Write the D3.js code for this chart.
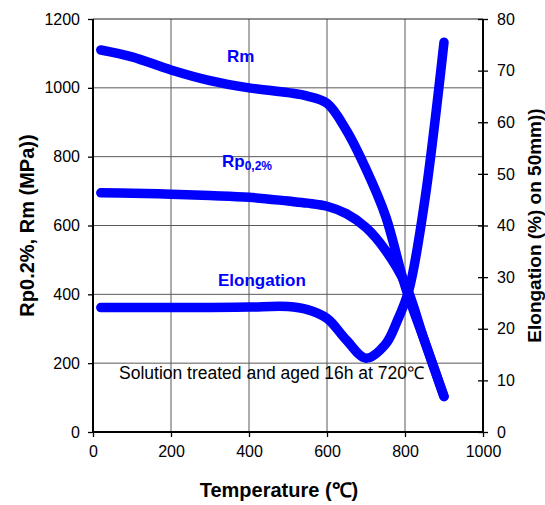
<!DOCTYPE html>
<html>
<head>
<meta charset="utf-8">
<script src="https://cdn.jsdelivr.net/npm/d3@7"></script>
<style>
  body { margin: 0; background: #fff; }
  svg { display: block; font-family: "Liberation Sans", Arial, sans-serif; }
</style>
</head>
<body>
<svg id="chart" width="545" height="505"></svg>
<script>
// strength curves, MPa (left axis)
const strengthTemps = [20, 100, 200, 300, 400, 500, 550, 600, 650, 700, 750, 800, 850, 900];
const rm = [1110, 1090, 1052, 1021, 1000, 986, 976, 955, 876, 764, 628, 425, 265, 103];
const rp = [695, 694, 691, 687, 682, 671, 665, 656, 634, 594, 528, 432, 265, 103];

// elongation, % (right axis)
const elongTemps = [20, 100, 200, 300, 400, 500, 550, 600, 650, 700, 750, 780, 810, 850, 900];
const elong = [24.1, 24.1, 24.1, 24.1, 24.2, 24.3, 23.7, 22.0, 17.8, 14.3, 17.0, 21.5, 27.5, 44.5, 75.5];

const xTicks = [0, 200, 400, 600, 800, 1000];
const leftTicks = [0, 200, 400, 600, 800, 1000, 1200];
const rightTicks = [0, 10, 20, 30, 40, 50, 60, 70, 80];

const margin = { top: 19, right: 62, bottom: 73, left: 93 };
const W = 545, H = 505;
const w = W - margin.left - margin.right;
const h = H - margin.top - margin.bottom;

const svg = d3.select("#chart");
const g = svg.append("g").attr("transform", `translate(${margin.left},${margin.top})`);

const x = d3.scaleLinear().domain([0, 1000]).range([0, w]);
const yL = d3.scaleLinear().domain([0, 1200]).range([h, 0]);
const yR = d3.scaleLinear().domain([0, 80]).range([h, 0]);

// grid
g.append("g").selectAll("line")
  .data(xTicks.filter(d => d > 0 && d < 1000))
  .enter().append("line")
  .attr("x1", d => x(d)).attr("x2", d => x(d))
  .attr("y1", 0).attr("y2", h)
  .attr("stroke", "#5a5a5a").attr("stroke-width", 1);
g.append("g").selectAll("line")
  .data(leftTicks.filter(d => d > 0 && d < 1200))
  .enter().append("line")
  .attr("x1", 0).attr("x2", w)
  .attr("y1", d => yL(d)).attr("y2", d => yL(d))
  .attr("stroke", "#5a5a5a").attr("stroke-width", 1);
g.append("line")
  .attr("x1", 0).attr("x2", w).attr("y1", 0).attr("y2", 0)
  .attr("stroke", "#222").attr("stroke-width", 1.2);

// axes
const fmt = d3.format("d");
const axB = g.append("g").attr("transform", `translate(0,${h})`)
  .call(d3.axisBottom(x).tickValues(xTicks).tickFormat(fmt).tickSize(5).tickPadding(9));
const axL = g.append("g")
  .call(d3.axisLeft(yL).tickValues(leftTicks).tickFormat(fmt).tickSize(5).tickPadding(8));
const axR = g.append("g").attr("transform", `translate(${w},0)`)
  .call(d3.axisRight(yR).tickValues(rightTicks).tickFormat(fmt).tickSize(5).tickPadding(9));
axR.selectAll(".tick line").attr("x1", -5);

[axB, axL, axR].forEach(a => {
  a.select(".domain").attr("stroke", "#000").attr("stroke-width", 2);
  a.selectAll(".tick line").attr("stroke", "#000").attr("stroke-width", 1.3);
  a.selectAll(".tick text")
    .attr("font-family", "'Liberation Sans', Arial, sans-serif")
    .attr("font-size", "16px").attr("fill", "#000");
});
axB.select(".domain").attr("d", `M0,0H${w}`);
axL.select(".domain").attr("d", `M0,0V${h}`);
axR.select(".domain").attr("d", `M0,0V${h}`);

// curves
const curve = d3.curveCatmullRom.alpha(0.5);
const lineL = d3.line().x((d, i) => x(strengthTemps[i])).y(d => yL(d)).curve(curve);
const lineR = d3.line().x((d, i) => x(elongTemps[i])).y(d => yR(d)).curve(curve);

[rp, rm].forEach(s => {
  g.append("path").datum(s).attr("d", lineL)
    .attr("fill", "none").attr("stroke", "#0000ff")
    .attr("stroke-width", 9.5).attr("stroke-linecap", "round").attr("stroke-linejoin", "round");
});
g.append("path").datum(elong).attr("d", lineR)
  .attr("fill", "none").attr("stroke", "#0000ff")
  .attr("stroke-width", 9.5).attr("stroke-linecap", "round").attr("stroke-linejoin", "round");

// labels
const lab = svg.append("g").attr("fill", "#0000ff").attr("font-weight", "bold").attr("font-size", "17px");
lab.append("text").attr("x", 227).attr("y", 62).text("Rm");
const rpT = lab.append("text").attr("x", 222).attr("y", 167);
rpT.append("tspan").text("Rp");
rpT.append("tspan").attr("font-size", "12px").attr("dy", 3).text("0,2%");
lab.append("text").attr("x", 218).attr("y", 286).text("Elongation");

svg.append("text").attr("x", 119).attr("y", 379)
  .attr("font-size", "17.5px").attr("fill", "#000")
  .text("Solution treated and aged 16h at 720\u2103");

// axis titles
svg.append("text")
  .attr("x", margin.left + w / 2 - 9).attr("y", 497)
  .attr("text-anchor", "middle").attr("font-weight", "bold").attr("font-size", "20px")
  .text("Temperature (\u2103)");
svg.append("text")
  .attr("transform", `translate(34,${margin.top + h / 2}) rotate(-90)`)
  .attr("text-anchor", "middle").attr("font-weight", "bold").attr("font-size", "20px")
  .text("Rp0.2%, Rm (MPa))");
svg.append("text")
  .attr("transform", `translate(541,${margin.top + h / 2}) rotate(-90)`)
  .attr("text-anchor", "middle").attr("font-weight", "bold").attr("font-size", "19px")
  .text("Elongation (%) on 50mm))");
</script>
</body>
</html>
